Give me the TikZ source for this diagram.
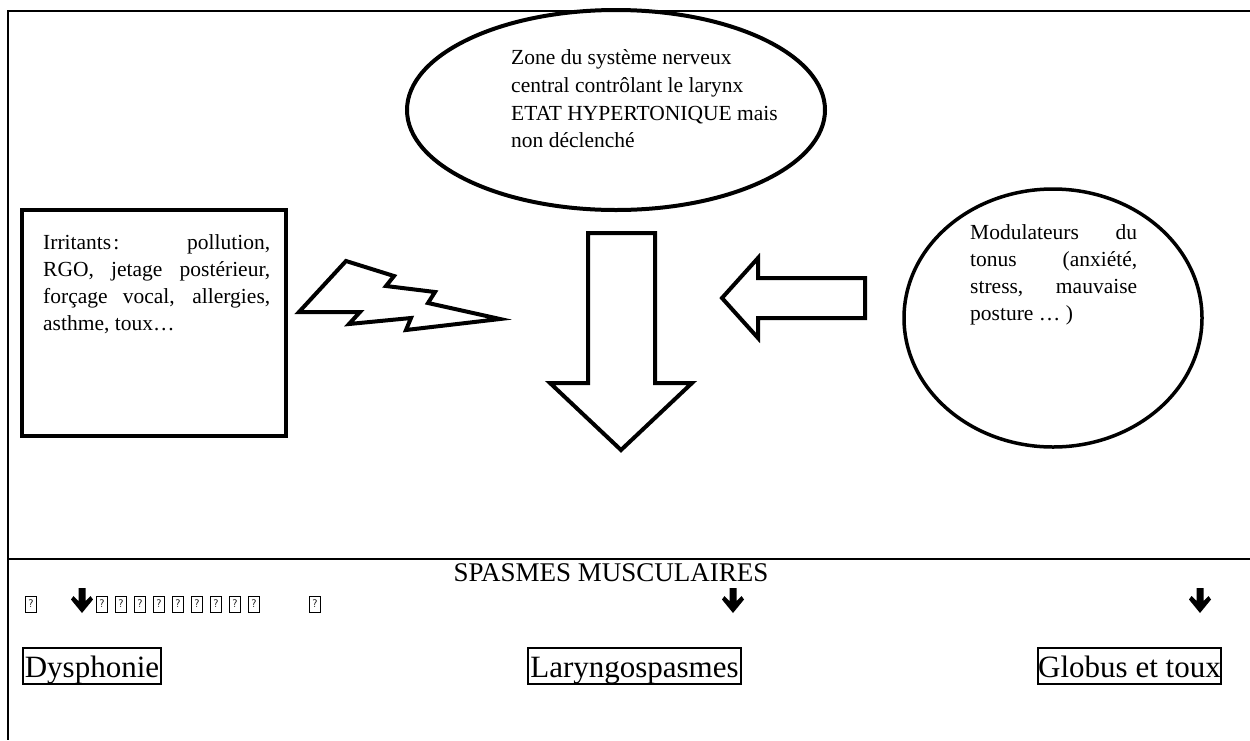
\documentclass[tikz,border=0pt]{standalone}
\usepackage{fontspec}
\setmainfont{Liberation Serif}
\usetikzlibrary{shapes.geometric}
\begin{document}
\begin{tikzpicture}[x=1pt,y=-1pt,
  shapeline/.style={line width=4pt, line join=miter},
  body/.style={font=\fontsize{21.5}{27.7}\selectfont, inner sep=0pt, anchor=base west},
  bigbox/.style={draw, line width=1.5pt, inner sep=0pt, minimum height=36pt,
    text height=29pt, text depth=7pt, font=\fontsize{31}{36}\selectfont},
  glyphbox/.style={draw, line width=0.8pt, inner sep=0pt, minimum width=11pt,
    minimum height=16pt, font=\sffamily\fontsize{11}{11}\selectfont},
  heavyarrow/.style={fill=black}
]
\useasboundingbox (0,0) rectangle (1250,740);
% frame
\draw[line width=1.8pt] (1250,11) coordinate (tr) -- (8,11) coordinate (tl) -- (8,740) coordinate (bl);
\draw[line width=1.2pt] (8,559) coordinate (ml) -- (1250,559) coordinate (mr);

% ellipse
\node[ellipse, draw, line width=4pt, minimum width=418pt, minimum height=200pt, inner sep=0pt] (zone) at (616,110) {};
\node[body] (z1) at (511,64) {Zone du système nerveux};
\node[body] (z2) at (511,92) {central contrôlant le larynx};
\node[body] (z3) at (511,120) {ETAT HYPERTONIQUE mais};
\node[body] (z4) at (511,147) {non déclenché};

% irritants box
\node[draw, line width=4pt, minimum width=264pt, minimum height=226pt, inner sep=0pt] (irr) at (154,323) {};
\node[body] (i1) at (43,249) {\makebox[227pt][s]{Irritants\kern2pt: pollution,}};
\node[body] (i2) at (43,276) {\makebox[227pt][s]{RGO, jetage postérieur,}};
\node[body] (i3) at (43,303) {\makebox[227pt][s]{forçage vocal, allergies,}};
\node[body] (i4) at (43,330) {asthme, toux…};

% lightning
\draw[shapeline] (299,312) -- (346,261) -- (394,276) -- (386,286) -- (435,292) -- (428,303)
  -- (500,319) -- (406,330) -- (411,318) -- (349,324) -- (360,312) -- cycle;

% big down arrow
\draw[shapeline] (588,233) -- (655,233) -- (655,383) -- (692,383) -- (621,450) -- (550,383) -- (588,383) -- cycle;

% left arrow
\draw[shapeline] (865,278) -- (758,278) -- (758,258) -- (722,298) -- (758,338) -- (758,318) -- (865,318) -- cycle;

% circle
\node[ellipse, draw, line width=3.5pt, minimum width=298pt, minimum height=258pt, inner sep=0pt] (modul) at (1053,318) {};
\node[body] (m1) at (970,239) {\makebox[167pt][s]{Modulateurs du}};
\node[body] (m2) at (970,266) {\makebox[167pt][s]{tonus (anxiété,}};
\node[body] (m3) at (970,293) {\makebox[167pt][s]{stress, mauvaise}};
\node[body] (m4) at (970,320) {posture … )};

% spasmes
\node[font=\fontsize{27}{30}\selectfont, inner sep=0pt, anchor=base] (spasmes) at (611,581) {SPASMES MUSCULAIRES};

% glyph row
\node[glyphbox] (g0) at (31,604) {?};
\foreach \k in {1,...,9} {
  \node[glyphbox] (g\k) at (83+19*\k,604) {?};
}
\node[glyphbox] (g10) at (315,604) {?};
\foreach \cx in {82,733,1200} {
  \fill[heavyarrow] (\cx-3.5,588) -- (\cx+3.5,588) -- (\cx+3.5,601) -- (\cx+8.5,596) -- (\cx+11,599.5)
    -- (\cx,613) -- (\cx-11,599.5) -- (\cx-8.5,596) -- (\cx-3.5,601) -- cycle;
}

% result boxes
\node[bigbox, minimum width=138pt] (dys) at (92,666) {Dysphonie};
\node[bigbox, minimum width=213pt] (lar) at (634.5,666) {Laryngospasmes};
\node[bigbox, minimum width=183pt] (glob) at (1129.5,666) {Globus et toux};
\end{tikzpicture}
\end{document}
